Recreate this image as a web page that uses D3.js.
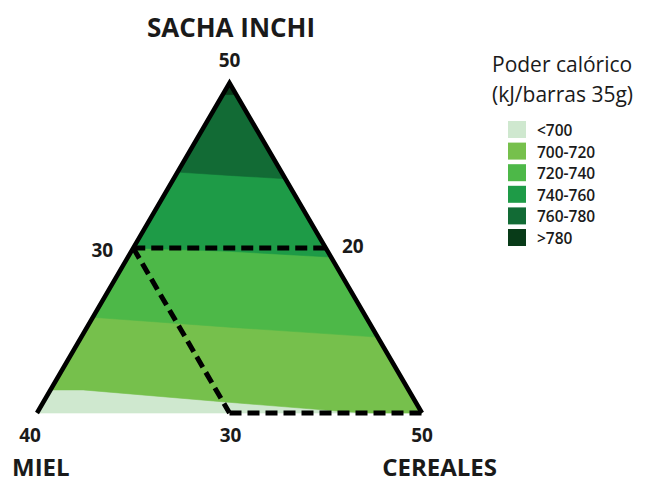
<!DOCTYPE html>
<html>
<head>
<meta charset="utf-8">
<script src="https://cdn.jsdelivr.net/npm/d3@7"></script>
<style>
  body { margin: 0; background: #fff; }
  text { font-family: "Open Sans", sans-serif; fill: #1a1a1a; }
</style>
</head>
<body>
<div class="chart"></div>
<script>
// component names and vertex values (sacha, miel, cereales in %)
var components = ["SACHA INCHI", "MIEL", "CEREALES"];
var vertices = [[50, 20, 30], [30, 40, 30], [30, 20, 50]];
var vertexLabels = ["50", "40", "50"];

// extra labels along the edges
var edgePoints = [[40, 30, 30], [40, 20, 40], [30, 30, 40]];
var edgeLabels = ["30", "20", "30"];

// legend classes
var classes = ["<700", "700-720", "720-740", "740-760", "760-780", ">780"];
var colors = ["#cfe8cf", "#76c04c", "#4db848", "#1e9b47", "#126b35", "#083b18"];

// contour boundaries, [sacha, miel] from left edge to right
var bound700 = [[31.4, 38.6], [31.4, 36.9], [30.7, 30.2], [30.06, 23.7], [30, 22.7]];
var bound720 = [[35.8, 34.2], [35.2, 27.4], [34.6, 20]];
var bound740 = [[40, 30], [39.8, 25.1], [39.45, 20]];
var bound760 = [[44.6, 25.4], [44.4, 22.8], [44.2, 20]];
var bound780 = [[49.3, 20.7], [49.3, 20]];

// dashed constraint lines
var dashLines = [
  [[40, 30], [40, 20]],
  [[40, 30], [30, 30]],
  [[30, 30], [30, 20]]
];

var svgWidth = 646;
var svgHeight = 483;

var svg = d3.select(".chart")
  .append("svg")
  .attr("width", svgWidth)
  .attr("height", svgHeight);

// ternary projection: y from sacha, x from (cereales - miel)
var yScale = d3.scaleLinear().domain([30, 50]).range([413, 83]);
var xScale = d3.scaleLinear().domain([-10, 30]).range([37, 422]);

function proj(p) {
  var s = p[0], m = p[1], c = p.length > 2 ? p[2] : 100 - p[0] - p[1];
  return [xScale(c - m), yScale(s)];
}

var line = d3.line();

// region of the triangle above a boundary
function regionAbove(bound) {
  var pts = bound.slice();
  if (pts[pts.length - 1][0] == 30) pts.push([30, 20]);
  pts.push([50, 20]);
  return line(pts.map(proj)) + "Z";
}

var bands = [null, bound700, bound720, bound740, bound760, bound780];

var fillGroup = svg.append("g");
bands.forEach(function (b, i) {
  fillGroup.append("path")
    .attr("d", b ? regionAbove(b) : line(vertices.map(proj)) + "Z")
    .attr("fill", colors[i])
    .attr("stroke", colors[i])
    .attr("stroke-width", 0.6);
});

// solid sides
svg.append("path")
  .attr("d", line([vertices[1], vertices[0], vertices[2]].map(proj)))
  .attr("fill", "none")
  .attr("stroke", "#000")
  .attr("stroke-width", 4.5)
  .attr("stroke-linejoin", "miter");

// dashed lines
svg.selectAll(".dash")
  .data(dashLines)
  .enter()
  .append("path")
  .attr("class", "dash")
  .attr("d", d => line(d.map(proj)))
  .attr("fill", "none")
  .attr("stroke", "#000")
  .attr("stroke-width", 5)
  .attr("stroke-dasharray", "12,6");

// vertex numbers
var vOff = [[0, -16], [-7, 29], [0, 29]];
svg.selectAll(".vlab")
  .data(vertexLabels)
  .enter()
  .append("text")
  .attr("class", "vlab")
  .attr("x", (d, i) => proj(vertices[i])[0] + vOff[i][0])
  .attr("y", (d, i) => proj(vertices[i])[1] + vOff[i][1])
  .attr("text-anchor", "middle")
  .attr("font-size", "19px")
  .attr("font-weight", "bold")
  .text(d => d);

var eOff = [[-31, 9], [27, 5], [1, 29]];
svg.selectAll(".elab")
  .data(edgeLabels)
  .enter()
  .append("text")
  .attr("class", "elab")
  .attr("x", (d, i) => proj(edgePoints[i])[0] + eOff[i][0])
  .attr("y", (d, i) => proj(edgePoints[i])[1] + eOff[i][1])
  .attr("text-anchor", "middle")
  .attr("font-size", "19px")
  .attr("font-weight", "bold")
  .text(d => d);

// component names
var nPos = [[231, 37, "middle"], [12, 476, "start"], [497, 476, "end"]];
svg.selectAll(".name")
  .data(components)
  .enter()
  .append("text")
  .attr("class", "name")
  .attr("x", (d, i) => nPos[i][0])
  .attr("y", (d, i) => nPos[i][1])
  .attr("text-anchor", (d, i) => nPos[i][2])
  .attr("font-size", (d, i) => i == 0 ? "26px" : "24px")
  .attr("font-weight", "bold")
  .text(d => d);

// legend
var legend = svg.append("g").attr("transform", "translate(492, 0)");
legend.append("text").attr("x", 0).attr("y", 72).attr("font-size", "21px").text("Poder calórico");
legend.append("text").attr("x", 0).attr("y", 102).attr("font-size", "21px").text("(kJ/barras 35g)");

var items = legend.selectAll(".item")
  .data(classes)
  .enter()
  .append("g")
  .attr("class", "item")
  .attr("transform", (d, i) => `translate(0, ${121 + i * 21.6})`);

items.append("rect")
  .attr("x", 16)
  .attr("y", 0)
  .attr("width", 18)
  .attr("height", 17)
  .attr("fill", (d, i) => colors[i]);

items.append("text")
  .attr("x", 45)
  .attr("y", 15)
  .attr("font-size", "15.5px")
  .attr("font-weight", 600)
  .text(d => d);
</script>
</body>
</html>
